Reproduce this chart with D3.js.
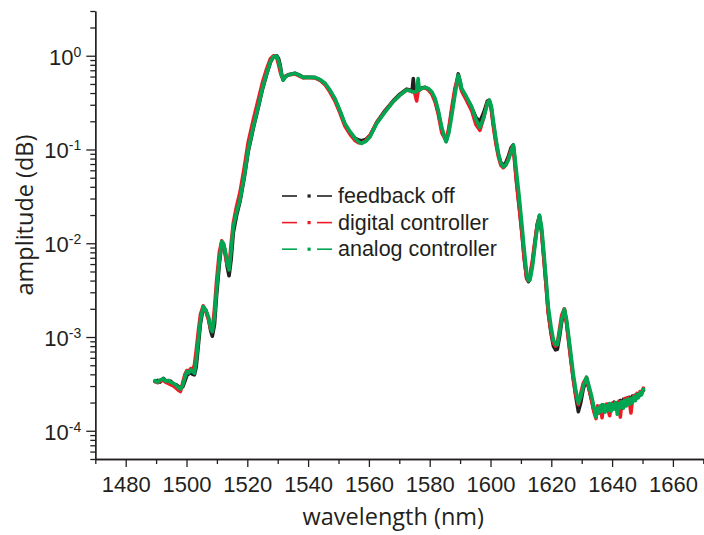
<!DOCTYPE html>
<html>
<head>
<meta charset="utf-8">
<script src="https://cdn.jsdelivr.net/npm/d3@7"></script>
<style>
  html, body { margin: 0; padding: 0; background: #fff; }
  svg { display: block; }
  .tick-label { font-family: "Liberation Sans", Arial, sans-serif; font-size: 22px; fill: #231f20; }
  .axis-title { font-family: "Open Sans", sans-serif; font-size: 23.5px; fill: #231f20; }
  .legend-text { font-family: "Liberation Sans", Arial, sans-serif; font-size: 21.5px; fill: #231f20; }
</style>
</head>
<body>
<svg id="chart" width="704" height="535"></svg>
<script>
// Spectrum samples (wavelength in nm) shared by all three traces
const wavelength = [
  1489.6, 1490.5, 1491.3, 1492.4, 1493.2, 1494.0, 1494.8, 1495.8, 1496.6, 1497.4,
  1498.0, 1498.8, 1499.5, 1500.1, 1500.8, 1501.4, 1502.0, 1502.6, 1503.2, 1503.9,
  1504.6, 1505.5, 1506.3, 1507.2, 1508.0, 1508.5, 1509.2, 1509.9, 1510.8, 1511.6,
  1512.1, 1512.7, 1513.4, 1514.0, 1514.7, 1515.4, 1516.5, 1517.6, 1519.0, 1520.3,
  1522.0, 1523.6, 1525.0, 1526.4, 1527.6, 1528.6, 1529.7, 1530.3, 1530.8, 1531.3,
  1531.8, 1532.6, 1533.5, 1535.7, 1537.0, 1538.4, 1540.0, 1542.3, 1544.0, 1545.6,
  1547.2, 1548.8, 1550.5, 1552.1, 1553.8, 1555.4, 1556.6, 1557.6, 1559.0, 1560.4,
  1562.6, 1565.3, 1568.0, 1570.2, 1572.4, 1573.6, 1574.2, 1574.6, 1575.0, 1575.7,
  1576.2, 1576.6, 1577.5, 1578.5, 1579.6, 1580.7, 1581.8, 1582.8, 1584.0, 1585.4,
  1586.3, 1587.2, 1588.3, 1589.4, 1590.0, 1590.5, 1592.0, 1593.8, 1595.2, 1596.5,
  1597.8, 1599.0, 1599.6, 1600.3, 1600.9, 1601.8, 1602.6, 1603.4, 1604.2, 1605.0,
  1605.9, 1606.8, 1607.5, 1608.0, 1608.6, 1609.5, 1610.3, 1611.1, 1611.9, 1612.5,
  1613.0, 1613.8, 1614.6, 1615.4, 1616.1, 1616.8, 1617.4, 1618.2, 1619.0, 1619.9,
  1620.7, 1621.4, 1622.0, 1622.7, 1623.4, 1624.3, 1625.0, 1625.6, 1626.4, 1627.2,
  1628.0, 1628.9, 1629.7, 1630.5, 1631.6, 1632.4, 1633.3, 1634.0, 1634.7, 1635.2,
  1635.7, 1636.2, 1636.7, 1637.2, 1637.7, 1638.2, 1638.7, 1639.2, 1639.7, 1640.2,
  1640.7, 1641.2, 1641.7, 1642.2, 1642.7, 1643.2, 1643.7, 1644.2, 1644.7, 1645.2,
  1645.7, 1646.2, 1646.7, 1647.2, 1647.7, 1648.2, 1648.7, 1649.2, 1649.7, 1650.3
];

const feedbackOff = [
  3.35e-4, 3.45e-4, 3.30e-4, 3.62e-4, 3.42e-4, 3.30e-4, 3.38e-4, 3.12e-4, 3.10e-4, 2.95e-4,
  2.85e-4, 2.95e-4, 3.40e-4, 3.90e-4, 4.05e-4, 4.20e-4, 4.00e-4, 3.95e-4, 4.8e-4, 8.2e-4,
  1.40e-3, 2.05e-3, 1.95e-3, 1.60e-3, 1.15e-3, 1.02e-3, 1.35e-3, 2.8e-3, 6.0e-3, 1.02e-2,
  1.0e-2, 8.2e-3, 5.6e-3, 4.5e-3, 6.8e-3, 1.3e-2, 2.0e-2, 2.8e-2, 5.0e-2, 9.5e-2,
  0.17, 0.28, 0.44, 0.64, 0.85, 0.97, 1.0, 0.93, 0.80, 0.63,
  0.55, 0.60, 0.625, 0.65, 0.625, 0.59, 0.59, 0.585, 0.55, 0.50,
  0.42, 0.345, 0.255, 0.185, 0.152, 0.132, 0.126, 0.124, 0.128, 0.142,
  0.195, 0.26, 0.33, 0.39, 0.44, 0.43, 0.42, 0.57, 0.415, 0.42,
  0.425, 0.435, 0.455, 0.46, 0.44, 0.40, 0.33, 0.25, 0.16, 0.122,
  0.16, 0.25, 0.42, 0.64, 0.52, 0.44, 0.36, 0.28, 0.22, 0.198,
  0.25, 0.33, 0.335, 0.27, 0.19, 0.12, 0.088, 0.072, 0.068, 0.072,
  0.085, 0.105, 0.112, 0.075, 0.045, 0.024, 0.0135, 0.007, 4.2e-3, 3.9e-3,
  4.3e-3, 6.2e-3, 1.0e-2, 1.6e-2, 1.95e-2, 1.35e-2, 8.0e-3, 3.9e-3, 1.85e-3, 1.1e-3,
  8.0e-4, 7.3e-4, 7.4e-4, 1.0e-3, 1.45e-3, 1.95e-3, 1.45e-3, 1.0e-3, 6.0e-4, 3.7e-4,
  2.4e-4, 1.6e-4, 2.0e-4, 2.8e-4, 3.6e-4, 2.8e-4, 2.1e-4, 1.65e-4, 1.5e-4, 1.65e-4,
  1.80e-4, 1.62e-4, 1.88e-4, 1.70e-4, 1.84e-4, 1.66e-4, 1.92e-4, 1.74e-4, 1.90e-4, 1.72e-4,
  2.02e-4, 1.80e-4, 1.98e-4, 1.82e-4, 2.10e-4, 1.86e-4, 2.16e-4, 1.92e-4, 2.22e-4, 1.98e-4,
  2.28e-4, 2.04e-4, 2.34e-4, 2.12e-4, 2.40e-4, 2.24e-4, 2.48e-4, 2.40e-4, 2.60e-4, 2.70e-4
];

const digitalController = [
  3.38e-4, 3.25e-4, 3.40e-4, 3.45e-4, 3.28e-4, 3.20e-4, 3.10e-4, 3.00e-4, 2.85e-4, 2.70e-4,
  2.62e-4, 3.30e-4, 4.00e-4, 4.40e-4, 4.35e-4, 4.60e-4, 4.50e-4, 5.00e-4, 7.2e-4, 1.15e-3,
  1.75e-3, 2.15e-3, 1.90e-3, 1.55e-3, 1.20e-3, 1.20e-3, 2.0e-3, 4.0e-3, 8.0e-3, 1.06e-2,
  9.6e-3, 7.6e-3, 5.8e-3, 5.6e-3, 1.0e-2, 1.65e-2, 2.5e-2, 3.5e-2, 6.4e-2, 0.12,
  0.21, 0.34, 0.52, 0.73, 0.93, 1.0, 0.95, 0.80, 0.68, 0.60,
  0.57, 0.61, 0.625, 0.64, 0.61, 0.58, 0.585, 0.58, 0.545, 0.49,
  0.41, 0.33, 0.245, 0.178, 0.145, 0.125, 0.118, 0.117, 0.125, 0.142,
  0.195, 0.255, 0.325, 0.38, 0.43, 0.422, 0.413, 0.413, 0.41, 0.33,
  0.42, 0.43, 0.45, 0.455, 0.43, 0.39, 0.32, 0.24, 0.15, 0.125,
  0.17, 0.27, 0.45, 0.60, 0.48, 0.42, 0.34, 0.26, 0.185, 0.16,
  0.22, 0.32, 0.33, 0.26, 0.18, 0.115, 0.084, 0.068, 0.064, 0.068,
  0.08, 0.1, 0.11, 0.07, 0.043, 0.023, 0.013, 0.0068, 4.2e-3, 4.0e-3,
  4.6e-3, 6.6e-3, 1.05e-2, 1.6e-2, 1.9e-2, 1.3e-2, 7.8e-3, 3.8e-3, 1.8e-3, 1.15e-3,
  8.6e-4, 8.0e-4, 8.6e-4, 1.2e-3, 1.7e-3, 2.0e-3, 1.4e-3, 9.6e-4, 5.8e-4, 3.6e-4,
  2.45e-4, 1.9e-4, 2.5e-4, 3.2e-4, 3.7e-4, 2.8e-4, 2.1e-4, 1.6e-4, 1.35e-4, 1.85e-4,
  1.55e-4, 1.78e-4, 1.38e-4, 1.86e-4, 1.70e-4, 1.92e-4, 1.66e-4, 1.45e-4, 1.84e-4, 1.98e-4,
  1.74e-4, 1.96e-4, 1.78e-4, 2.06e-4, 1.40e-4, 2.00e-4, 1.90e-4, 2.20e-4, 1.96e-4, 2.26e-4,
  2.02e-4, 1.55e-4, 2.16e-4, 2.36e-4, 2.22e-4, 2.50e-4, 2.34e-4, 2.62e-4, 2.50e-4, 2.85e-4
];

const analogController = [
  3.43e-4, 3.30e-4, 3.48e-4, 3.58e-4, 3.38e-4, 3.45e-4, 3.28e-4, 3.20e-4, 3.05e-4, 2.88e-4,
  2.78e-4, 3.10e-4, 3.70e-4, 4.28e-4, 4.15e-4, 4.46e-4, 4.30e-4, 4.11e-4, 5.6e-4, 9.3e-4,
  1.50e-3, 2.11e-3, 1.95e-3, 1.65e-3, 1.25e-3, 1.14e-3, 1.6e-3, 3.18e-3, 6.5e-3, 1.04e-2,
  1.0e-2, 8.48e-3, 6.2e-3, 5.19e-3, 8.5e-3, 1.50e-2, 2.15e-2, 2.90e-2, 5.2e-2, 9.88e-2,
  0.175, 0.286, 0.45, 0.649, 0.86, 0.976, 0.99, 0.88, 0.763, 0.62,
  0.551, 0.60, 0.623, 0.649, 0.62, 0.588, 0.590, 0.588, 0.555, 0.508,
  0.43, 0.351, 0.26, 0.190, 0.155, 0.132, 0.121, 0.116, 0.122, 0.137,
  0.190, 0.25, 0.323, 0.38, 0.431, 0.425, 0.415, 0.413, 0.41, 0.415,
  0.57, 0.43, 0.45, 0.46, 0.445, 0.413, 0.35, 0.264, 0.17, 0.121,
  0.15, 0.224, 0.38, 0.622, 0.55, 0.449, 0.37, 0.286, 0.21, 0.172,
  0.22, 0.31, 0.337, 0.29, 0.206, 0.13, 0.091, 0.072, 0.0656, 0.068,
  0.0773, 0.095, 0.1117, 0.085, 0.0557, 0.030, 0.0163, 0.0085, 4.79e-3, 4.0e-3,
  4.06e-3, 5.6e-3, 9.2e-3, 1.5e-2, 2.0e-2, 1.5e-2, 9.2e-3, 4.5e-3, 2.11e-3, 1.3e-3,
  9.3e-4, 8.4e-4, 8.24e-4, 1.1e-3, 1.52e-3, 1.98e-3, 1.55e-3, 1.10e-3, 6.8e-4, 4.11e-4,
  2.8e-4, 1.97e-4, 2.3e-4, 2.96e-4, 3.73e-4, 3.0e-4, 2.32e-4, 1.8e-4, 1.4e-4, 1.75e-4,
  1.55e-4, 1.85e-4, 1.62e-4, 1.90e-4, 1.58e-4, 1.84e-4, 1.66e-4, 1.95e-4, 1.62e-4, 1.90e-4,
  1.70e-4, 2.00e-4, 1.50e-4, 1.94e-4, 1.76e-4, 2.05e-4, 1.74e-4, 2.10e-4, 1.84e-4, 2.18e-4,
  1.92e-4, 2.22e-4, 2.00e-4, 2.30e-4, 2.10e-4, 2.42e-4, 2.26e-4, 2.55e-4, 2.42e-4, 2.77e-4
];

const seriesNames = ["feedback off", "digital controller", "analog controller"];
const seriesColors = ["#231f20", "#ed1c24", "#00a651"];
const seriesValues = [feedbackOff, digitalController, analogController];

const xMajorTicks = [1480, 1500, 1520, 1540, 1560, 1580, 1600, 1620, 1640, 1660];
const xMinorTicks = [1470, 1490, 1510, 1530, 1550, 1570, 1590, 1610, 1630, 1650, 1670];
const yMajorTicks = [1e0, 1e-1, 1e-2, 1e-3, 1e-4];
const yTickExponents = ["0", "-1", "-2", "-3", "-4"];

const xTitle = "wavelength (nm)";
const yTitle = "amplitude (dB)";

// ---------- layout ----------
const svg = d3.select("#chart");
const plotLeft = 95.3, plotRight = 703.3, plotTop = 11, plotBottom = 459;
const ink = "#231f20";

const x = d3.scaleLinear().domain([1470, 1670]).range([plotLeft, plotRight]);
const y = d3.scaleLog().domain([5e-5, 3]).range([plotBottom, plotTop]);

// minor log ticks: 2..9 of each decade inside the domain
const yMinorTicks = [];
[-5, -4, -3, -2, -1, 0].forEach(e => {
  for (let m = 2; m <= 9; m++) {
    const v = m * Math.pow(10, e);
    if (v >= 5e-5 * 0.999 && v <= 3 * 1.001) yMinorTicks.push(v);
  }
});

// ---------- traces ----------
const line = d3.line()
  .x(d => x(d[0]))
  .y(d => y(d[1]))
  .curve(d3.curveLinear);

const traces = svg.append("g");
seriesValues.forEach((vals, i) => {
  const pts = wavelength.map((w, k) => [w, vals[k]]);
  traces.append("path")
    .datum(pts)
    .attr("fill", "none")
    .attr("stroke", seriesColors[i])
    .attr("stroke-width", 3.6)
    .attr("stroke-linejoin", "round")
    .attr("stroke-linecap", "round")
    .attr("d", line);
});

// ---------- axes ----------
function styleAxis(g) {
  g.select(".domain").attr("stroke", ink).attr("stroke-width", 1.3);
  g.selectAll(".tick line").attr("stroke", ink).attr("stroke-width", 1.3);
}

// x axis minor ticks
svg.append("g")
  .attr("transform", `translate(0,${plotBottom})`)
  .call(d3.axisBottom(x).tickValues(xMinorTicks).tickSize(5).tickSizeOuter(0).tickFormat(""))
  .call(styleAxis);

// x axis major ticks with labels
const xAxisG = svg.append("g")
  .attr("transform", `translate(0,${plotBottom})`)
  .call(d3.axisBottom(x).tickValues(xMajorTicks).tickSize(8).tickSizeOuter(0).tickPadding(9).tickFormat(d3.format("d")))
  .call(styleAxis);
xAxisG.attr("font-family", null).attr("font-size", null);
xAxisG.selectAll(".tick text")
  .attr("class", "tick-label")
  .attr("fill", ink);

// y axis minor ticks
svg.append("g")
  .attr("transform", `translate(${plotLeft},0)`)
  .call(d3.axisLeft(y).tickValues(yMinorTicks).tickSize(5).tickSizeOuter(0).tickFormat(""))
  .call(styleAxis);

// y axis major ticks, labels as powers of ten
const yAxisG = svg.append("g")
  .attr("transform", `translate(${plotLeft},0)`)
  .call(d3.axisLeft(y).tickValues(yMajorTicks).tickSize(9).tickSizeOuter(0).tickFormat(""))
  .call(styleAxis);
yAxisG.attr("font-family", null).attr("font-size", null);
yAxisG.selectAll(".tick").each(function(d, i) {
  const t = d3.select(this).select("text")
    .attr("class", "tick-label")
    .attr("fill", ink)
    .attr("x", -14)
    .attr("dy", "0.38em")
    .attr("text-anchor", "end");
  t.text(null);
  t.append("tspan").text("10");
  t.append("tspan")
    .attr("dy", "-8")
    .attr("font-size", "14px")
    .text(yTickExponents[i]);
});

// ---------- titles ----------
svg.append("text")
  .attr("class", "axis-title")
  .attr("x", (plotLeft + plotRight) / 2 - 6)
  .attr("y", 525)
  .attr("text-anchor", "middle")
  .text(xTitle);

svg.append("text")
  .attr("class", "axis-title")
  .attr("transform", `translate(33,215) rotate(-90)`)
  .attr("text-anchor", "middle")
  .text(yTitle);

// ---------- legend ----------
const legend = svg.append("g").attr("transform", "translate(282,196)");
seriesNames.forEach((name, i) => {
  const row = legend.append("g").attr("transform", `translate(0,${i * 26.6})`);
  row.append("line").attr("x1", 0).attr("x2", 15).attr("y1", 0).attr("y2", 0)
    .attr("stroke", seriesColors[i]).attr("stroke-width", 1.6);
  row.append("rect").attr("x", 25.5).attr("y", -1.6).attr("width", 3.2).attr("height", 3.2)
    .attr("fill", seriesColors[i]);
  row.append("line").attr("x1", 35).attr("x2", 50).attr("y1", 0).attr("y2", 0)
    .attr("stroke", seriesColors[i]).attr("stroke-width", 1.6);
  row.append("text").attr("class", "legend-text")
    .attr("x", 56).attr("y", 7)
    .text(name);
});
</script>
</body>
</html>
